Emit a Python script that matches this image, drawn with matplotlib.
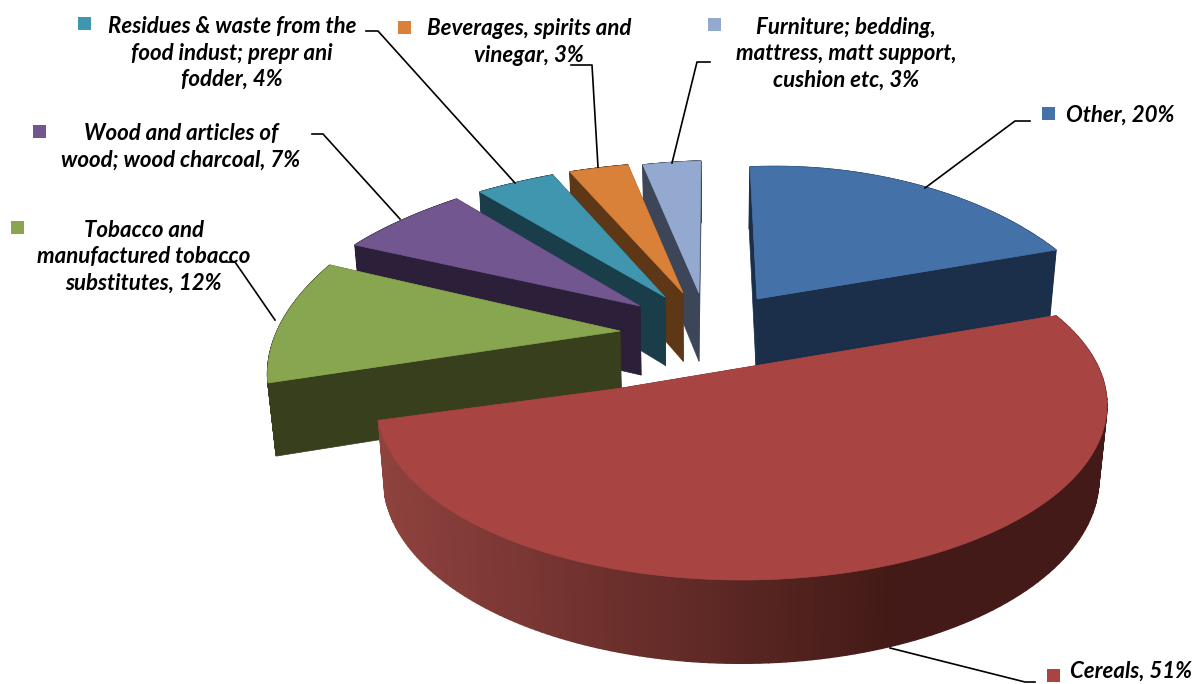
import numpy as np
import matplotlib
matplotlib.use("Agg")
import matplotlib.pyplot as plt
from matplotlib.patches import Polygon, Rectangle
from matplotlib.colors import to_rgb

labels = ["Other, 20%", "Cereals, 51%",
          "Tobacco and\nmanufactured tobacco\nsubstitutes, 12%",
          "Wood and articles of\nwood; wood charcoal, 7%",
          "Residues & waste from the\nfood indust; prepr ani\nfodder, 4%",
          "Beverages, spirits and\nvinegar, 3%",
          "Furniture; bedding,\nmattress, matt support,\ncushion etc, 3%"]
shares = [20, 51, 12, 7, 4, 3, 3]
top_colors = ["#4471a8", "#a84543", "#88a54f", "#71568f", "#3f96ae", "#d98138", "#93a9cf"]
side_colors = ["#1b2f4a", "#6a2a27", "#373f1c", "#2b1f3a", "#193e4a", "#5e3716", "#3c4658"]

W, H_ = 1195, 684
fig = plt.figure(figsize=(W / 100, H_ / 100), dpi=100)
ax = fig.add_axes([0, 0, 1, 1])
ax.set_xlim(0, W); ax.set_ylim(H_, 0); ax.axis("off")

def apply(M, p):
    p = np.atleast_2d(p)
    q = np.c_[p, np.ones(len(p))] @ M.T
    return q[:, :2] / q[:, 2:]

def unit(t):
    return np.c_[np.sin(np.radians(t)), -np.cos(np.radians(t))]

def rot(a):
    c, s = np.cos(a), np.sin(a)
    return np.array([[c, -s, 0], [s, c, 0], [0, 0, 1.0]])

# perspective of the pie plane: outline ellipse + projected pie centre
cx, cy, sa, sb = 742, 405, 365, 175
AFF = np.array([[sa, 0, cx], [0, sb, cy], [0, 0, 1.0]])
px = np.array([(622 - cx) / sa, (388 - cy) / sb])
r = np.hypot(*px)
ang = np.arctan2(px[1], px[0])
BOOST0 = np.array([[1, 0, r], [0, np.sqrt(1 - r * r), 0], [r, 0, 1.0]])
BOOST = rot(ang) @ BOOST0 @ rot(-ang)
fr = np.cumsum([0] + shares) / sum(shares) * 360
qA = apply(np.linalg.inv(AFF @ BOOST), (1060, 315))[0]
pA = unit(fr[1])[0]
phi = np.arctan2(qA[1], qA[0]) - np.arctan2(pA[1], pA[0])
M = AFF @ BOOST @ rot(phi)
Mi = np.linalg.inv(M)

# exploded placement of every slice: apex and the two rim corners on screen
apex_px = [(757, 299), (622, 388), (620, 331), (640, 306), (665, 297), (683, 293), (699, 293)]
corner_px = [((750, 167), (1056, 250)), None, ((268, 383), (330, 265)), ((355, 245), (457, 199)),
             ((480, 192), (553, 175)), ((570, 172), (628, 165)), ((643, 165), (701, 161))]
bulge = [0.77, 1, 1, 1, 1, 1, 1]

def depth(y):
    return 62 + (np.asarray(y) - 170) * 0.052

def down(p):
    d = depth(p[:, 1])
    return p + np.c_[d * (700 - p[:, 0]) * 0.000266, d]

order = [6, 5, 4, 3, 2, 0, 1]
for z, i in enumerate(order):
    base = apply(Mi, apex_px[i])[0]
    t = np.linspace(fr[i], fr[i + 1], 160)
    arc = apply(M, base + unit(t))
    apex = apply(M, base)
    if corner_px[i] is not None:
        src = np.array([arc[0] - apex[0], arc[-1] - apex[0]]).T
        dst = (np.array(corner_px[i]) - apex[0]).T
        L = dst @ np.linalg.inv(src)
        arc = apex + (arc - apex) @ L.T
        chord = arc[0] + np.linspace(0, 1, len(arc))[:, None] * (arc[-1] - arc[0])
        arc = chord + bulge[i] * (arc - chord)
    low_arc, low_apex = down(arc), down(apex)
    for e in (arc[:1], arc[-1:]):
        ax.add_patch(Polygon(np.r_[apex, e, down(e), low_apex], fc=side_colors[i], ec=side_colors[i], lw=.5, zorder=z))
    for k in range(len(arc) - 1):
        c = side_colors[i]
        if i == 1:
            f = np.clip((arc[k, 0] - 380) / 520, 0, 1)
            c = np.array(to_rgb("#8f423e")) * (1 - f) + np.array(to_rgb("#431a17")) * f
        ax.add_patch(Polygon(np.r_[arc[k:k + 2], low_arc[k:k + 2][::-1]], fc=c, ec=c, lw=1, zorder=z))
    ax.add_patch(Polygon(np.r_[apex, arc], fc=top_colors[i], ec=top_colors[i], lw=.5, zorder=z + .5))

text_pos = [(1120, 115), (1131, 671), (144, 257), (181, 147), (232, 53), (529, 42), (846, 54)]
key_pos = [(1049, 113), (1054, 675), (18, 227), (40, 131), (85, 23), (405, 27), (715, 24)]
leaders = [[(1030, 121), (1015, 121), (925, 188)],
           [(1035, 682), (1025, 682), (890, 648)],
           [(226, 262), (235, 262), (275, 320)],
           [(312, 134), (323, 134), (400, 219)],
           [(366, 31), (378, 31), (515, 183)],
           [(571, 65), (592, 65), (598, 167)],
           [(710, 62), (697, 62), (672, 163)]]
for i in range(7):
    ax.text(*text_pos[i], labels[i], ha="center", va="center", family="Lato", style="italic", weight="bold",
            fontsize=16, color="black", linespacing=1.3, zorder=30)
    kx, ky = key_pos[i]
    ax.add_patch(Rectangle((kx - 6.5, ky - 6.5), 13, 13, fc=top_colors[i], ec="none", zorder=30))
    xs, ys = zip(*leaders[i])
    ax.plot(xs, ys, color="black", lw=1.2, zorder=20)

fig.savefig("out.png", dpi=100)
